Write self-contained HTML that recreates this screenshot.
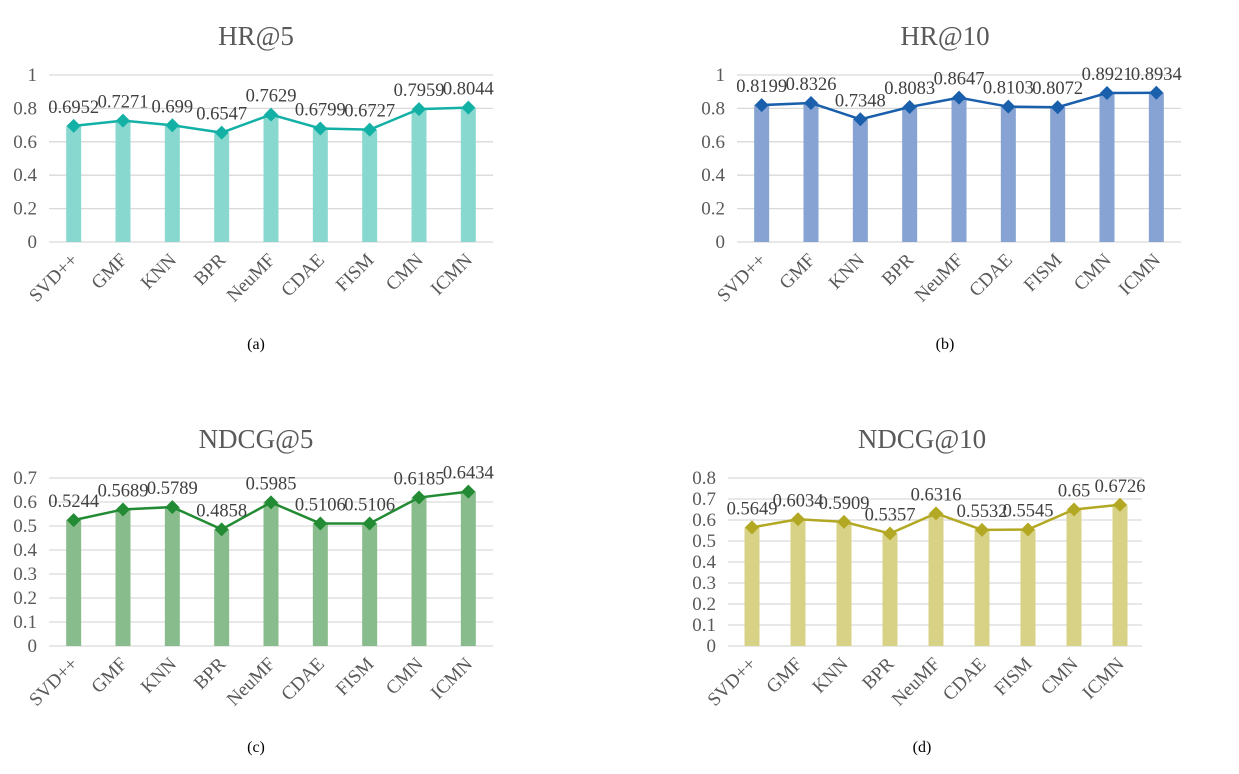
<!DOCTYPE html>
<html><head><meta charset="utf-8"><style>
body{margin:0;background:#fff;width:1239px;height:769px;overflow:hidden}
svg text{font-family:"Liberation Serif",serif}
</style></head><body>
<svg id="s" width="1239" height="769"></svg>
<script>
const categories=["SVD++","GMF","KNN","BPR","NeuMF","CDAE","FISM","CMN","ICMN"];
const hr5=[0.6952,0.7271,0.699,0.6547,0.7629,0.6799,0.6727,0.7959,0.8044];
const hr5Labels=["0.6952","0.7271","0.699","0.6547","0.7629","0.6799","0.6727","0.7959","0.8044"];
const hr10=[0.8199,0.8326,0.7348,0.8083,0.8647,0.8103,0.8072,0.8921,0.8934];
const hr10Labels=["0.8199","0.8326","0.7348","0.8083","0.8647","0.8103","0.8072","0.8921","0.8934"];
const ndcg5=[0.5244,0.5689,0.5789,0.4858,0.5985,0.5106,0.5106,0.6185,0.6434];
const ndcg5Labels=["0.5244","0.5689","0.5789","0.4858","0.5985","0.5106","0.5106","0.6185","0.6434"];
const ndcg10=[0.5649,0.6034,0.5909,0.5357,0.6316,0.5532,0.5545,0.65,0.6726];
const ndcg10Labels=["0.5649","0.6034","0.5909","0.5357","0.6316","0.5532","0.5545","0.65","0.6726"];
const ticksHR=["0","0.2","0.4","0.6","0.8","1"];
const ticksN5=["0","0.1","0.2","0.3","0.4","0.5","0.6","0.7"];
const ticksN10=["0","0.1","0.2","0.3","0.4","0.5","0.6","0.7","0.8"];

const NS="http://www.w3.org/2000/svg";
const svg=document.getElementById('s');
function mk(tag,attrs,parent,text){const e=document.createElementNS(NS,tag);for(const k in attrs)e.setAttribute(k,attrs[k]);if(text!==undefined)e.textContent=text;parent.appendChild(e);return e;}

function chart(o){
  const g=mk('g',{},svg);
  
  
  const ymax=parseFloat(o.ticks[o.ticks.length-1]);
  const y=v=>o.y0-(v/ymax)*(o.y0-o.y1);
  const n=categories.length;
  const step=(o.x1-o.x0)/n;
  const x=i=>o.x0+step*(i+0.5)+o.dx;
  const t=mk('text',{x:o.tx,y:o.ty,'text-anchor':'middle','font-size':27,fill:'#595959'},g,o.title);
  
  
  o.ticks.forEach(tk=>{
    const v=parseFloat(tk);
    const l=mk('line',{x1:o.x0,x2:o.x1,y1:y(v),y2:y(v),stroke:'#d9d9d9','stroke-width':1.3},g);
    
    
    const tt=mk('text',{x:o.x0-12,y:y(v)+6,'text-anchor':'end','font-size':19,fill:'#595959'},g,tk);
    
    
  });
  o.values.forEach((v,i)=>{
    const r=mk('rect',{x:x(i)-7.5,y:y(v),width:15,height:o.y0-y(v),fill:o.bar},g);
    
    
  });
  const pts=o.values.map((v,i)=>x(i)+','+y(v)).join(' ');
  const pl=mk('polyline',{points:pts,fill:'none',stroke:o.line,'stroke-width':2.5},g);
  
  
  o.values.forEach((v,i)=>{
    const cx=x(i),cy=y(v),s=7;
    const m=mk('polygon',{points:`${cx},${cy-s} ${cx+s},${cy} ${cx},${cy+s} ${cx-s},${cy}`,fill:o.line},g);
    
    
    const lt=mk('text',{x:cx,y:cy-13,'text-anchor':'middle','font-size':18.5,fill:'#404040'},g,o.labels[i]);
    
    
    const ct=mk('text',{x:cx+5,y:o.y0+19,'text-anchor':'end','font-size':19,fill:'#595959',transform:`rotate(-45 ${cx+5} ${o.y0+19})`},g,categories[i]);
    
    
  });
  const cp=mk('text',{x:o.tx,y:o.cy,'text-anchor':'middle','font-size':16,fill:'#000'},g,o.caption);
  
  
}
chart({name:'hr5-chart',title:'HR@5',caption:'(a)',values:hr5,labels:hr5Labels,ticks:ticksHR,x0:49,x1:493,y0:242,y1:75,dx:0,tx:256,ty:45,cy:349,bar:'#88d8d0',line:'#13b0a5'});
chart({name:'hr10-chart',title:'HR@10',caption:'(b)',values:hr10,labels:hr10Labels,ticks:ticksHR,x0:737,x1:1181,y0:242,y1:75,dx:0,tx:945,ty:45,cy:349,bar:'#86a3d3',line:'#1a5fab'});
chart({name:'ndcg5-chart',title:'NDCG@5',caption:'(c)',values:ndcg5,labels:ndcg5Labels,ticks:ticksN5,x0:49,x1:493,y0:646,y1:478,dx:0,tx:256,ty:448,cy:752,bar:'#88bc8c',line:'#228b34'});
chart({name:'ndcg10-chart',title:'NDCG@10',caption:'(d)',values:ndcg10,labels:ndcg10Labels,ticks:ticksN10,x0:728,x1:1142,y0:646,y1:478,dx:1,tx:922,ty:448,cy:752,bar:'#d8d286',line:'#b3a823'});
</script>
</body></html>
